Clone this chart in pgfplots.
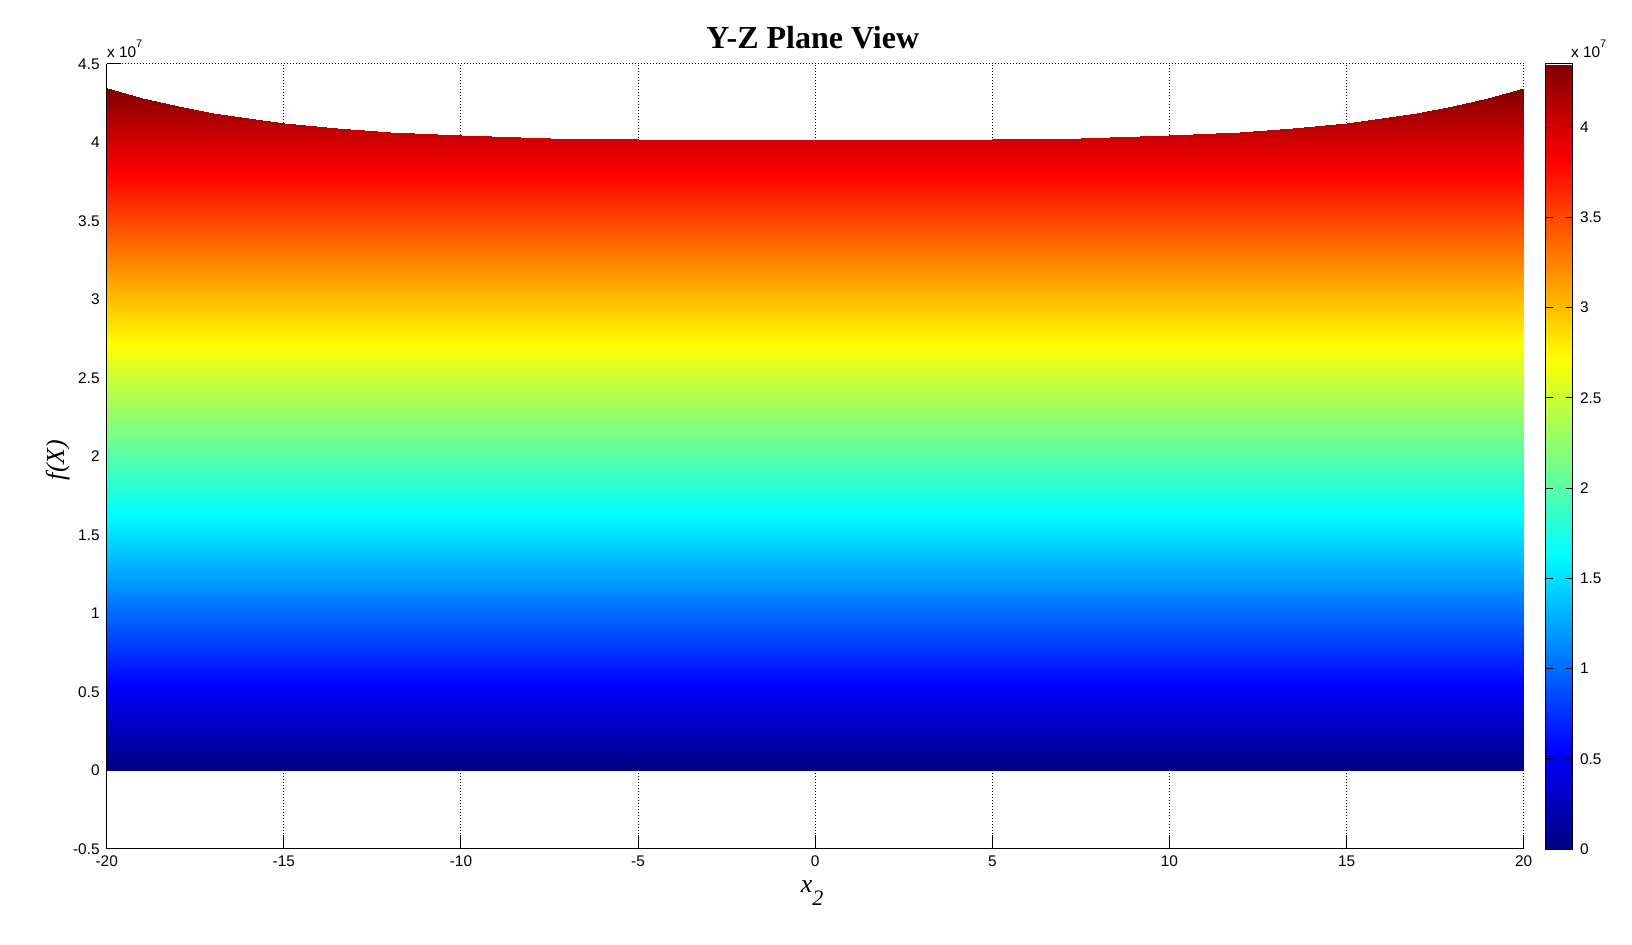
\documentclass[border=0pt]{standalone}
\usepackage{fontspec}
\setmainfont{Liberation Serif}
\newfontfamily\arial{Liberation Sans}
\usepackage{pgfplots}
\pgfplotsset{compat=1.18}
\usetikzlibrary{calc}
\begin{document}
\begin{tikzpicture}
\begin{axis}[
  name=main,
  scale only axis,
  width=708.5pt, height=392.5pt,
  xmin=-20, xmax=20, ymin=-0.5, ymax=4.5,
  xtick={-20,-15,...,20},
  ytick={-0.5,0,0.5,1,1.5,2,2.5,3,3.5,4,4.5},
  tick align=inside,
  tick pos=left,
  major tick length=7pt,
  tick style={black, line width=0.5pt},
  axis line style={draw=none},
  grid=major,
  major grid style={black, line width=0.5pt, dash pattern=on 0.5pt off 1pt},
  /pgf/number format/assume math mode=true,
  tick label style={font=\arial\fontsize{7.7}{9}\selectfont},
  colormap/jet,
  point meta min=0, point meta max=4.35,
  colorbar,
  colorbar style={
    at={(parent axis.north east)}, anchor=north west, xshift=2.6pt,
    scale only axis, width=13.5pt, height=392.5pt,
    ytick={0,0.5,1,1.5,2,2.5,3,3.5,4},
    tick align=inside, ytick pos=both, yticklabel pos=right,
    major tick length=3.5pt,
    tick style={black, line width=0.5pt},
    axis line style={black, line width=0.5pt},
    /pgf/number format/assume math mode=true,
    yticklabel style={font=\arial\fontsize{7.7}{9}\selectfont},
  },
]
\addplot[surf, shader=interp, mesh/rows=18, mesh/cols=25, point meta=y] coordinates {
(-20,0) (-19,0) (-18,0) (-17,0) (-16,0) (-15,0) (-13.5,0) (-12,0) (-10,0) (-7.5,0) (-5,0) (-2.5,0) (0,0) (2.5,0) (5,0) (7.5,0) (10,0) (12,0) (13.5,0) (15,0) (16,0) (17,0) (18,0) (19,0) (20,0)
(-20,0.25) (-19,0.25) (-18,0.25) (-17,0.25) (-16,0.25) (-15,0.25) (-13.5,0.25) (-12,0.25) (-10,0.25) (-7.5,0.25) (-5,0.25) (-2.5,0.25) (0,0.25) (2.5,0.25) (5,0.25) (7.5,0.25) (10,0.25) (12,0.25) (13.5,0.25) (15,0.25) (16,0.25) (17,0.25) (18,0.25) (19,0.25) (20,0.25)
(-20,0.5) (-19,0.5) (-18,0.5) (-17,0.5) (-16,0.5) (-15,0.5) (-13.5,0.5) (-12,0.5) (-10,0.5) (-7.5,0.5) (-5,0.5) (-2.5,0.5) (0,0.5) (2.5,0.5) (5,0.5) (7.5,0.5) (10,0.5) (12,0.5) (13.5,0.5) (15,0.5) (16,0.5) (17,0.5) (18,0.5) (19,0.5) (20,0.5)
(-20,0.75) (-19,0.75) (-18,0.75) (-17,0.75) (-16,0.75) (-15,0.75) (-13.5,0.75) (-12,0.75) (-10,0.75) (-7.5,0.75) (-5,0.75) (-2.5,0.75) (0,0.75) (2.5,0.75) (5,0.75) (7.5,0.75) (10,0.75) (12,0.75) (13.5,0.75) (15,0.75) (16,0.75) (17,0.75) (18,0.75) (19,0.75) (20,0.75)
(-20,1) (-19,1) (-18,1) (-17,1) (-16,1) (-15,1) (-13.5,1) (-12,1) (-10,1) (-7.5,1) (-5,1) (-2.5,1) (0,1) (2.5,1) (5,1) (7.5,1) (10,1) (12,1) (13.5,1) (15,1) (16,1) (17,1) (18,1) (19,1) (20,1)
(-20,1.25) (-19,1.25) (-18,1.25) (-17,1.25) (-16,1.25) (-15,1.25) (-13.5,1.25) (-12,1.25) (-10,1.25) (-7.5,1.25) (-5,1.25) (-2.5,1.25) (0,1.25) (2.5,1.25) (5,1.25) (7.5,1.25) (10,1.25) (12,1.25) (13.5,1.25) (15,1.25) (16,1.25) (17,1.25) (18,1.25) (19,1.25) (20,1.25)
(-20,1.5) (-19,1.5) (-18,1.5) (-17,1.5) (-16,1.5) (-15,1.5) (-13.5,1.5) (-12,1.5) (-10,1.5) (-7.5,1.5) (-5,1.5) (-2.5,1.5) (0,1.5) (2.5,1.5) (5,1.5) (7.5,1.5) (10,1.5) (12,1.5) (13.5,1.5) (15,1.5) (16,1.5) (17,1.5) (18,1.5) (19,1.5) (20,1.5)
(-20,1.75) (-19,1.75) (-18,1.75) (-17,1.75) (-16,1.75) (-15,1.75) (-13.5,1.75) (-12,1.75) (-10,1.75) (-7.5,1.75) (-5,1.75) (-2.5,1.75) (0,1.75) (2.5,1.75) (5,1.75) (7.5,1.75) (10,1.75) (12,1.75) (13.5,1.75) (15,1.75) (16,1.75) (17,1.75) (18,1.75) (19,1.75) (20,1.75)
(-20,2) (-19,2) (-18,2) (-17,2) (-16,2) (-15,2) (-13.5,2) (-12,2) (-10,2) (-7.5,2) (-5,2) (-2.5,2) (0,2) (2.5,2) (5,2) (7.5,2) (10,2) (12,2) (13.5,2) (15,2) (16,2) (17,2) (18,2) (19,2) (20,2)
(-20,2.25) (-19,2.25) (-18,2.25) (-17,2.25) (-16,2.25) (-15,2.25) (-13.5,2.25) (-12,2.25) (-10,2.25) (-7.5,2.25) (-5,2.25) (-2.5,2.25) (0,2.25) (2.5,2.25) (5,2.25) (7.5,2.25) (10,2.25) (12,2.25) (13.5,2.25) (15,2.25) (16,2.25) (17,2.25) (18,2.25) (19,2.25) (20,2.25)
(-20,2.5) (-19,2.5) (-18,2.5) (-17,2.5) (-16,2.5) (-15,2.5) (-13.5,2.5) (-12,2.5) (-10,2.5) (-7.5,2.5) (-5,2.5) (-2.5,2.5) (0,2.5) (2.5,2.5) (5,2.5) (7.5,2.5) (10,2.5) (12,2.5) (13.5,2.5) (15,2.5) (16,2.5) (17,2.5) (18,2.5) (19,2.5) (20,2.5)
(-20,2.75) (-19,2.75) (-18,2.75) (-17,2.75) (-16,2.75) (-15,2.75) (-13.5,2.75) (-12,2.75) (-10,2.75) (-7.5,2.75) (-5,2.75) (-2.5,2.75) (0,2.75) (2.5,2.75) (5,2.75) (7.5,2.75) (10,2.75) (12,2.75) (13.5,2.75) (15,2.75) (16,2.75) (17,2.75) (18,2.75) (19,2.75) (20,2.75)
(-20,3) (-19,3) (-18,3) (-17,3) (-16,3) (-15,3) (-13.5,3) (-12,3) (-10,3) (-7.5,3) (-5,3) (-2.5,3) (0,3) (2.5,3) (5,3) (7.5,3) (10,3) (12,3) (13.5,3) (15,3) (16,3) (17,3) (18,3) (19,3) (20,3)
(-20,3.25) (-19,3.25) (-18,3.25) (-17,3.25) (-16,3.25) (-15,3.25) (-13.5,3.25) (-12,3.25) (-10,3.25) (-7.5,3.25) (-5,3.25) (-2.5,3.25) (0,3.25) (2.5,3.25) (5,3.25) (7.5,3.25) (10,3.25) (12,3.25) (13.5,3.25) (15,3.25) (16,3.25) (17,3.25) (18,3.25) (19,3.25) (20,3.25)
(-20,3.5) (-19,3.5) (-18,3.5) (-17,3.5) (-16,3.5) (-15,3.5) (-13.5,3.5) (-12,3.5) (-10,3.5) (-7.5,3.5) (-5,3.5) (-2.5,3.5) (0,3.5) (2.5,3.5) (5,3.5) (7.5,3.5) (10,3.5) (12,3.5) (13.5,3.5) (15,3.5) (16,3.5) (17,3.5) (18,3.5) (19,3.5) (20,3.5)
(-20,3.75) (-19,3.75) (-18,3.75) (-17,3.75) (-16,3.75) (-15,3.75) (-13.5,3.75) (-12,3.75) (-10,3.75) (-7.5,3.75) (-5,3.75) (-2.5,3.75) (0,3.75) (2.5,3.75) (5,3.75) (7.5,3.75) (10,3.75) (12,3.75) (13.5,3.75) (15,3.75) (16,3.75) (17,3.75) (18,3.75) (19,3.75) (20,3.75)
(-20,4) (-19,4) (-18,4) (-17,4) (-16,4) (-15,4) (-13.5,4) (-12,4) (-10,4) (-7.5,4) (-5,4) (-2.5,4) (0,4) (2.5,4) (5,4) (7.5,4) (10,4) (12,4) (13.5,4) (15,4) (16,4) (17,4) (18,4) (19,4) (20,4)
(-20,4.350) (-19,4.285) (-18,4.232) (-17,4.188) (-16,4.153) (-15,4.126) (-13.5,4.092) (-12,4.067) (-10,4.046) (-7.5,4.027) (-5,4.020) (-2.5,4.015) (0,4.013) (2.5,4.015) (5,4.020) (7.5,4.027) (10,4.046) (12,4.067) (13.5,4.092) (15,4.126) (16,4.153) (17,4.188) (18,4.232) (19,4.285) (20,4.350)
};
\end{axis}
\draw[black, line width=0.5pt] (main.north west) -- (main.south west) -- (main.south east);
\node[anchor=base, font=\bfseries\fontsize{16}{19}\selectfont] at ($(main.north)+(-1.2pt,7.5pt)$) {Y-Z Plane View};
\node[anchor=base west, inner sep=0pt, font=\arial\fontsize{7.7}{9}\selectfont] at ($(main.north west)+(0,3.4pt)$) {x 10\raisebox{5pt}{\fontsize{5.5}{6}\selectfont 7}};
\node[anchor=base west, inner sep=0pt, font=\arial\fontsize{7.7}{9}\selectfont] at ($(main.north east)+(23.5pt,3.4pt)$) {x 10\raisebox{5pt}{\fontsize{5.5}{6}\selectfont 7}};
\node[anchor=base, inner sep=0pt, font=\fontsize{13}{15}\selectfont\itshape] at ($(main.south)+(-1.5pt,-22pt)$) {x\raisebox{-6.5pt}{\fontsize{11}{12}\selectfont 2}};
\node[rotate=90, inner sep=0pt, font=\fontsize{13}{15}\selectfont\itshape] at ($(main.west)+(-24.5pt,-1.75pt)$) {f(X)};
\pgfresetboundingbox
\path ($(main.south west)+(-53.35pt,-48pt)$) rectangle ++(816pt,472.5pt);
\end{tikzpicture}
\end{document}
